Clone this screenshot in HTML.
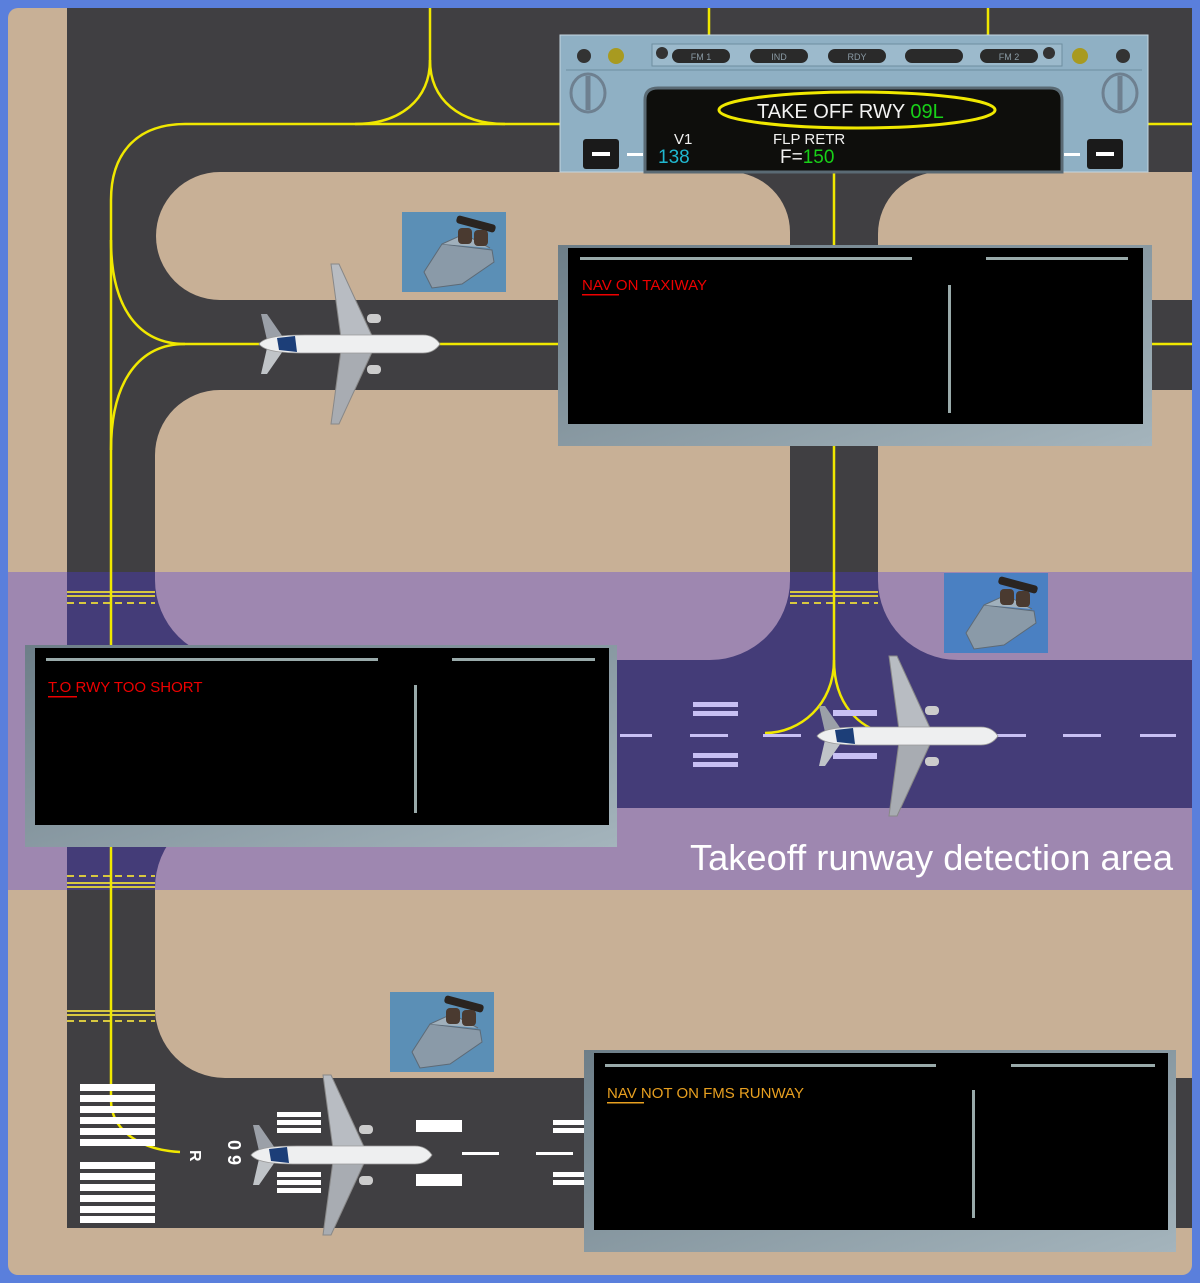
<!DOCTYPE html>
<html><head><meta charset="utf-8"><style>
html,body{margin:0;padding:0;background:#5a7fdc;}
svg{display:block}
text{font-family:"Liberation Sans",sans-serif}
</style></head><body>
<svg width="1200" height="1283" viewBox="0 0 1200 1283" xmlns="http://www.w3.org/2000/svg">
<defs>
<symbol id="plane" viewBox="-100 -90 200 180" overflow="visible">
 <path d="M28,-6 L-6,-80 L-14,-80 L-4,-6 Z" fill="#b8bcc2" stroke="#888" stroke-width="1"/>
 <path d="M28,6 L-6,80 L-14,80 L-4,6 Z" fill="#a8acb2" stroke="#888" stroke-width="1"/>
 <rect x="22" y="-30" width="14" height="9" rx="4" fill="#ccc"/>
 <rect x="22" y="21" width="14" height="9" rx="4" fill="#ccc"/>
 <path d="M-60,-4 L-78,-30 L-84,-30 L-78,-4 Z" fill="#9ba0a8"/>
 <path d="M-60,4 L-78,30 L-84,30 L-78,4 Z" fill="#c0c4c8"/>
 <path d="M-86,0 C-80,-8 -60,-9 -40,-9 L78,-9 C88,-9 93,-3 95,0 C93,3 88,9 78,9 L-40,9 C-60,9 -80,8 -86,0 Z" fill="#eeeff0" stroke="#999" stroke-width="0.8"/>
 <path d="M-68,-6 L-50,-8 L-48,8 L-66,6 Z" fill="#1c3e78"/>
</symbol>
<symbol id="thr" viewBox="0 0 104 80" overflow="visible">
 <path d="M22,60 L40,32 L90,38 L92,50 L60,72 L30,76 Z" fill="#8a9aa8" stroke="#5d6a76"/>
 <path d="M40,32 L62,22 L88,36" fill="#a0b0bc" stroke="#5d6a76"/>
 <rect x="54" y="8" width="40" height="8" rx="3" fill="#2a2420" transform="rotate(15 74 12)"/>
 <rect x="56" y="16" width="14" height="16" rx="4" fill="#4a3a30"/>
 <rect x="72" y="18" width="14" height="16" rx="4" fill="#4a3a30"/>
</symbol>
<linearGradient id="fr" x1="0" y1="0" x2="1" y2="1"><stop offset="0" stop-color="#6d7e88"/><stop offset="1" stop-color="#a4b4bc"/></linearGradient>
</defs>
<rect x="0" y="0" width="1200" height="1283" fill="#5a7fdc"/>
<rect x="8" y="8" width="1184" height="1267" rx="10" fill="#c8b096"/>
<!-- asphalt -->
<rect x="67" y="8" width="1125" height="1220" fill="#403f42"/>
<!-- tan islands -->
<g fill="#c8b096">
 <path d="M220,172 L730,172 A60,60 0 0 1 790,232 L790,300 L220,300 A64,64 0 0 1 220,172 Z"/>
 <path d="M940,172 L1192,172 L1192,300 L878,300 L878,234 A62,62 0 0 1 940,172 Z"/>
 <path d="M220,390 L790,390 L790,580 A80,80 0 0 1 710,660 L235,660 A80,80 0 0 1 155,580 L155,455 A65,65 0 0 1 220,390 Z"/>
 <path d="M878,390 L1192,390 L1192,660 L958,660 A80,80 0 0 1 878,580 Z"/>
 <path d="M235,808 L1192,808 L1192,1078 L225,1078 A70,70 0 0 1 155,1008 L155,888 A80,80 0 0 1 235,808 Z"/>
</g>
<!-- purple detection band -->
<rect x="8" y="572" width="1184" height="318" fill="rgb(75,56,227)" fill-opacity="0.34"/>
<!-- hold short markings -->
<g stroke="#d8c840" stroke-width="2">
 <line x1="67" y1="592" x2="155" y2="592"/><line x1="67" y1="596" x2="155" y2="596"/>
 <line x1="67" y1="603" x2="155" y2="603" stroke-dasharray="7,5"/>
 <line x1="790" y1="592" x2="878" y2="592"/><line x1="790" y1="596" x2="878" y2="596"/>
 <line x1="790" y1="603" x2="878" y2="603" stroke-dasharray="7,5"/>
 <line x1="67" y1="876" x2="155" y2="876" stroke-dasharray="7,5"/>
 <line x1="67" y1="883" x2="155" y2="883"/><line x1="67" y1="887" x2="155" y2="887"/>
 <line x1="67" y1="1011" x2="155" y2="1011"/><line x1="67" y1="1015" x2="155" y2="1015"/>
 <line x1="67" y1="1021" x2="155" y2="1021" stroke-dasharray="7,5"/>
</g>
<!-- yellow centerlines -->
<g stroke="#f0e800" stroke-width="2.5" fill="none">
 <path d="M430,8 L430,60 C430,100 400,124 355,124"/>
 <path d="M430,60 C430,100 460,124 505,124"/>
 <path d="M560,124 L185,124 C140,124 111,150 111,200 L111,1100 C111,1130 140,1150 180,1152"/>
 <path d="M111,240 C111,310 140,344 185,344 L560,344"/>
 <path d="M111,450 C111,380 140,344 185,344"/>
 <path d="M709,8 L709,35"/><path d="M988,8 L988,35"/>
 <path d="M1148,124 L1192,124"/><path d="M1152,344 L1192,344"/>
 <path d="M834,172 L834,245"/>
 <path d="M834,446 L834,660 C834,705 800,733 765,733"/>
 <path d="M834,660 C834,705 860,728 885,733"/>
</g>
<!-- middle runway markings -->
<g fill="#c8c0f4">
 <rect x="620" y="734" width="32" height="3"/>
 <rect x="690" y="734" width="38" height="3"/>
 <rect x="763" y="734" width="38" height="3"/>
 <rect x="988" y="734" width="38" height="3"/>
 <rect x="1063" y="734" width="38" height="3"/>
 <rect x="1140" y="734" width="36" height="3"/>
 <rect x="693" y="702" width="45" height="5"/><rect x="693" y="711" width="45" height="5"/>
 <rect x="693" y="753" width="45" height="5"/><rect x="693" y="762" width="45" height="5"/>
 <rect x="833" y="710" width="44" height="6"/><rect x="833" y="753" width="44" height="6"/>
</g>
<!-- bottom runway markings -->
<g fill="#ffffff">
 <rect x="80" y="1084" width="75" height="7"/><rect x="80" y="1095" width="75" height="7"/>
 <rect x="80" y="1106" width="75" height="7"/><rect x="80" y="1117" width="75" height="7"/>
 <rect x="80" y="1128" width="75" height="7"/><rect x="80" y="1139" width="75" height="7"/>
 <rect x="80" y="1162" width="75" height="7"/><rect x="80" y="1173" width="75" height="7"/>
 <rect x="80" y="1184" width="75" height="7"/><rect x="80" y="1195" width="75" height="7"/>
 <rect x="80" y="1206" width="75" height="7"/><rect x="80" y="1216" width="75" height="7"/>
 <rect x="277" y="1112" width="44" height="5"/><rect x="277" y="1120" width="44" height="5"/><rect x="277" y="1128" width="44" height="5"/>
 <rect x="277" y="1172" width="44" height="5"/><rect x="277" y="1180" width="44" height="5"/><rect x="277" y="1188" width="44" height="5"/>
 <rect x="416" y="1120" width="46" height="12"/><rect x="416" y="1174" width="46" height="12"/>
 <rect x="462" y="1152" width="37" height="3"/><rect x="536" y="1152" width="37" height="3"/>
 <rect x="553" y="1120" width="32" height="5"/><rect x="553" y="1128" width="32" height="5"/>
 <rect x="553" y="1172" width="32" height="5"/><rect x="553" y="1180" width="32" height="5"/>
</g>
<text x="0" y="0" transform="translate(190,1150) rotate(90)" fill="#fff" font-size="16" font-weight="bold">R</text>
<text x="0" y="0" transform="translate(228,1140) rotate(90)" fill="#fff" font-size="18" font-weight="bold">0 9</text>
<!-- throttles -->
<rect x="402" y="212" width="104" height="80" fill="#5b8fb6"/><use href="#thr" x="402" y="212" width="104" height="80"/>
<rect x="944" y="573" width="104" height="80" fill="#4a80c2"/><use href="#thr" x="944" y="573" width="104" height="80"/>
<rect x="390" y="992" width="104" height="80" fill="#5b8fb6"/><use href="#thr" x="390" y="992" width="104" height="80"/>
<!-- planes -->
<use href="#plane" x="245" y="254" width="200" height="180"/>
<use href="#plane" x="803" y="646" width="200" height="180"/>
<use href="#plane" x="237" y="1065" width="200" height="180"/>
<!-- MCDU panel -->
<rect x="560" y="35" width="588" height="137" fill="#8fb0c4" stroke="#c4d6e0"/>
<rect x="652" y="44" width="410" height="22" fill="#9cbacc" stroke="#6e8ea0"/>
<line x1="566" y1="70" x2="1142" y2="70" stroke="#6e8ea0"/>
<circle cx="584" cy="56" r="7" fill="#333"/><circle cx="616" cy="56" r="8" fill="#a89a20"/>
<circle cx="662" cy="53" r="6" fill="#333"/><circle cx="1049" cy="53" r="6" fill="#333"/>
<circle cx="1080" cy="56" r="8" fill="#a89a20"/><circle cx="1123" cy="56" r="7" fill="#333"/>
<g fill="#2a2a2a">
 <rect x="672" y="49" width="58" height="14" rx="7"/><rect x="750" y="49" width="58" height="14" rx="7"/>
 <rect x="828" y="49" width="58" height="14" rx="7"/><rect x="905" y="49" width="58" height="14" rx="7"/>
 <rect x="980" y="49" width="58" height="14" rx="7"/>
</g>
<g fill="#8a9aa4" font-size="9" text-anchor="middle">
 <text x="701" y="60">FM 1</text><text x="779" y="60">IND</text><text x="857" y="60">RDY</text><text x="1009" y="60">FM 2</text>
</g>
<ellipse cx="588" cy="93" rx="17" ry="19" fill="none" stroke="#6e8090" stroke-width="3"/>
<line x1="588" y1="76" x2="588" y2="110" stroke="#6e8090" stroke-width="5"/>
<ellipse cx="1120" cy="93" rx="17" ry="19" fill="none" stroke="#6e8090" stroke-width="3"/>
<line x1="1120" y1="76" x2="1120" y2="110" stroke="#6e8090" stroke-width="5"/>
<path d="M645,172 L645,100 Q645,88 658,88 L1050,88 Q1062,88 1062,100 L1062,172 Z" fill="#0e0e0c" stroke="#5a6a74" stroke-width="3"/>
<rect x="583" y="139" width="36" height="30" rx="3" fill="#1a1a1a"/><rect x="592" y="152" width="18" height="4" fill="#fff"/>
<rect x="1087" y="139" width="36" height="30" rx="3" fill="#1a1a1a"/><rect x="1096" y="152" width="18" height="4" fill="#fff"/>
<rect x="627" y="153" width="16" height="3" fill="#fff"/><rect x="1064" y="153" width="16" height="3" fill="#fff"/>
<ellipse cx="857" cy="110" rx="138" ry="18" fill="none" stroke="#f0e800" stroke-width="3"/>
<text x="757" y="118" fill="#f2f2f2" font-size="20" font-family="DejaVu Sans,sans-serif">TAKE OFF RWY <tspan fill="#18d018">09L</tspan></text>
<text x="674" y="144" fill="#f2f2f2" font-size="15" font-family="DejaVu Sans,sans-serif">V1</text>
<text x="658" y="163" fill="#20b8d0" font-size="19" font-family="DejaVu Sans,sans-serif">138</text>
<text x="773" y="144" fill="#f2f2f2" font-size="15" font-family="DejaVu Sans,sans-serif">FLP RETR</text>
<text x="780" y="163" fill="#f2f2f2" font-size="19" font-family="DejaVu Sans,sans-serif">F=<tspan fill="#18d018">150</tspan></text>
<!-- boxes -->
<g>
 <rect x="558" y="245" width="594" height="201" fill="url(#fr)"/>
 <rect x="568" y="248" width="575" height="176" fill="#000"/>
 <rect x="580" y="257" width="332" height="3" fill="#9aa"/><rect x="986" y="257" width="142" height="3" fill="#9aa"/>
 <rect x="948" y="285" width="3" height="128" fill="#9aa"/>
 <text x="582" y="290" fill="#e00" font-size="15">NAV ON TAXIWAY</text>
 <rect x="582" y="294" width="37" height="1.5" fill="#e00"/>
</g>
<g>
 <rect x="25" y="645" width="592" height="202" fill="url(#fr)"/>
 <rect x="35" y="648" width="574" height="177" fill="#000"/>
 <rect x="46" y="658" width="332" height="3" fill="#9aa"/><rect x="452" y="658" width="143" height="3" fill="#9aa"/>
 <rect x="414" y="685" width="3" height="128" fill="#9aa"/>
 <text x="48" y="692" fill="#e00" font-size="15">T.O RWY TOO SHORT</text>
 <rect x="48" y="696" width="29" height="1.5" fill="#e00"/>
</g>
<g>
 <rect x="584" y="1050" width="592" height="202" fill="url(#fr)"/>
 <rect x="594" y="1053" width="574" height="177" fill="#000"/>
 <rect x="605" y="1064" width="331" height="3" fill="#9aa"/><rect x="1011" y="1064" width="144" height="3" fill="#9aa"/>
 <rect x="972" y="1090" width="3" height="128" fill="#9aa"/>
 <text x="607" y="1098" fill="#e8a020" font-size="15">NAV NOT ON FMS RUNWAY</text>
 <rect x="607" y="1102" width="37" height="1.5" fill="#e8a020"/>
</g>
<text x="690" y="870" fill="#ffffff" font-size="36" textLength="483" lengthAdjust="spacingAndGlyphs">Takeoff runway detection area</text>
</svg>
</body></html>
